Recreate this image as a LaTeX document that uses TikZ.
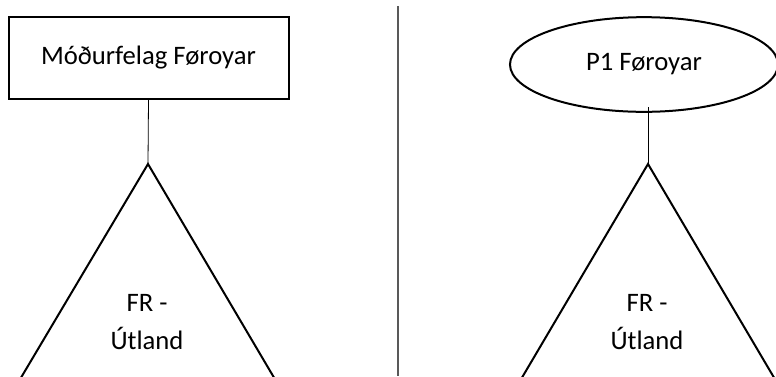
\documentclass[tikz,border=0pt]{standalone}
\usepackage{fontspec}
\setmainfont{Carlito}
\usetikzlibrary{shapes.geometric}
\begin{document}
\begin{tikzpicture}[x=0.75pt,y=-0.75pt,
  lbl/.style={font=\fontsize{20}{24}\selectfont, inner sep=0pt},
  boxshape/.style={draw, line width=1.5pt, rectangle, minimum width=210pt, minimum height=61pt, lbl},
  ovalshape/.style={draw, line width=1.5pt, ellipse, minimum width=201pt, minimum height=71pt, lbl},
  tri/.style={line width=1.5pt, line join=miter},
  conn/.style={line width=0.6pt},
  divider/.style={line width=0.8pt, draw=black!65},
  tlabel/.style={lbl, align=center, font=\fontsize{20}{29}\selectfont}]
\useasboundingbox (0,0) rectangle (776,376);
\clip (0,0) rectangle (776,376);
% left side
\node[boxshape] (m) at (148.5,58) {Móðurfelag Føroyar};
\coordinate (a1) at (148,164);
\draw[tri] (22-7.5,376+12.6) -- (a1) -- (273+7.5,376+12.6);
\draw[conn] (m.south) -- (a1);
\node[tlabel] (t1) at (147,322) {FR -\\Útland};
% divider
\coordinate (d1) at (398,6);
\coordinate (d2) at (398,376);
\draw[divider] (d1) -- (d2);
% right side
\node[ovalshape] (p) at (644,64.5) {P1 Føroyar};
\coordinate (a2) at (648,164);
\coordinate (s2) at (648,107);
\draw[tri] (523-7.5,376+12.6) -- (a2) -- (773+7.5,376+12.6);
\draw[conn] (s2) -- (a2);
\node[tlabel] (t2) at (647,322) {FR -\\Útland};
\end{tikzpicture}
\end{document}
